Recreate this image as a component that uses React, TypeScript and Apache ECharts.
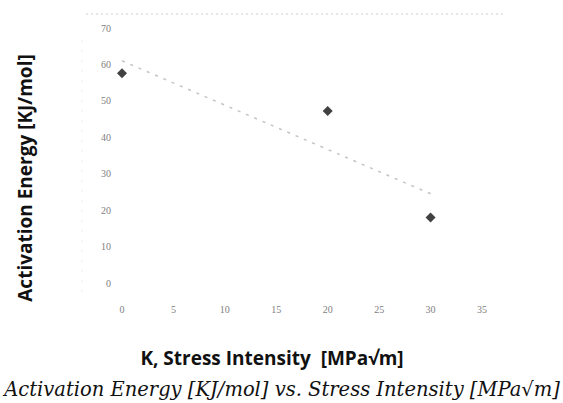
import React, { useEffect, useRef } from "react";
import * as echarts from "echarts";

const stressIntensity = [0, 20, 30];
const activationEnergy = [57.6, 47.2, 18];
const trendX = [0, 30];
const trendY = [61, 24.5];
const xTicks = [0, 5, 10, 15, 20, 25, 30, 35];
const yTicks = [0, 10, 20, 30, 40, 50, 60, 70];

export default function App() {
  const ref = useRef<HTMLDivElement>(null);
  useEffect(() => {
    if (!ref.current) return;
    const chart = echarts.init(ref.current, null, { renderer: "svg" });
    chart.setOption({
      animation: false,
      backgroundColor: "#ffffff",
      grid: { left: 122, right: 81, top: 28, bottom: 120, containLabel: false },
      xAxis: {
        type: "value",
        min: xTicks[0],
        max: xTicks[xTicks.length - 1],
        interval: 5,
        axisLine: { show: false },
        axisTick: { show: false },
        splitLine: { show: false },
        axisLabel: {
          margin: 21,
          color: "#808080",
          fontFamily: "Liberation Serif",
          fontSize: 10,
        },
      },
      yAxis: {
        type: "value",
        min: yTicks[0],
        max: yTicks[yTicks.length - 1],
        interval: 10,
        axisLine: { show: false },
        axisTick: { show: false },
        splitLine: { show: false },
        axisLabel: {
          margin: 11,
          color: "#808080",
          fontFamily: "Liberation Serif",
          fontSize: 10,
        },
      },
      series: [
        {
          type: "line",
          data: trendX.map((x, i) => [x, trendY[i]]),
          showSymbol: false,
          symbol: "none",
          lineStyle: { color: "#c4c4c4", width: 1.5, type: [3, 6] },
          z: 1,
        },
        {
          type: "scatter",
          data: stressIntensity.map((x, i) => [x, activationEnergy[i]]),
          symbol: "diamond",
          symbolSize: 10,
          itemStyle: { color: "#111111" },
          z: 3,
        },
      ],
      graphic: [
        {
          type: "line",
          shape: { x1: 86, y1: 14, x2: 506, y2: 14 },
          style: { stroke: "#cfcfcf", lineWidth: 1.2, lineDash: [2, 3] },
        },
        {
          type: "line",
          shape: { x1: 82, y1: 40, x2: 82, y2: 300 },
          style: { stroke: "#ececec", lineWidth: 1, lineDash: [2, 8] },
        },
        {
          type: "text",
          x: 25,
          y: 178,
          rotation: Math.PI / 2,
          style: {
            text: "Activation Energy [KJ/mol]",
            fontFamily: "Open Sans",
            fontWeight: "bold",
            fontSize: 19,
            fill: "#111",
            align: "center",
            verticalAlign: "middle",
          },
        },
        {
          type: "text",
          x: 272,
          y: 358,
          style: {
            text: "K, Stress Intensity  [MPa√m]",
            fontFamily: "Open Sans",
            fontWeight: "bold",
            fontSize: 19,
            fill: "#111",
            align: "center",
            verticalAlign: "middle",
          },
        },
        {
          type: "text",
          x: 282,
          y: 389,
          style: {
            text: "Activation Energy [KJ/mol] vs. Stress Intensity [MPa√m]",
            fontFamily: "DejaVu Serif",
            fontStyle: "italic",
            fontSize: 19.5,
            fill: "#111",
            align: "center",
            verticalAlign: "middle",
          },
        },
      ],
    });
    return () => chart.dispose();
  }, []);
  return <div ref={ref} style={{ width: 563, height: 403, position: "fixed", left: 0, top: 0 }} />;
}
